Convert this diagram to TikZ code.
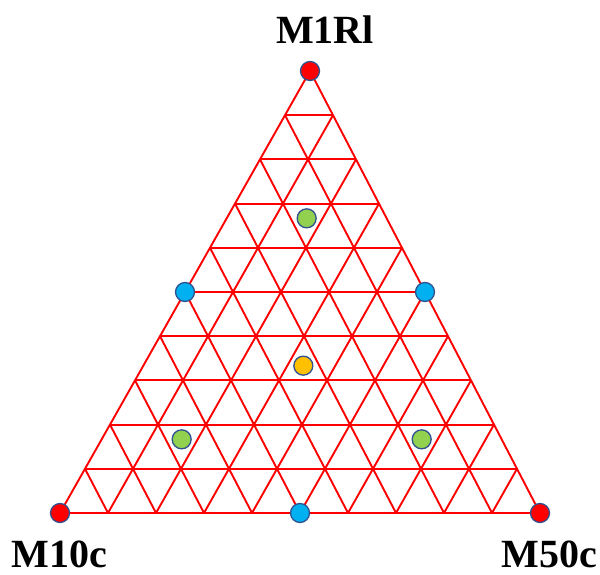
\documentclass[tikz,border=0pt]{standalone}
\usepackage{fontspec}
\setmainfont{Liberation Serif}
\usetikzlibrary{calc}
\definecolor{gridred}{RGB}{255,0,0}
\definecolor{dotedge}{RGB}{47,82,143}
\definecolor{dotred}{RGB}{255,0,0}
\definecolor{dotblue}{RGB}{0,176,240}
\definecolor{dotgreen}{RGB}{146,208,80}
\definecolor{dotorange}{RGB}{255,192,0}
\tikzset{
  gridline/.style={draw=gridred, line width=1.9pt},
  dot/.style={circle, draw=dotedge, line width=1.3pt, minimum size=19pt, inner sep=0pt},
  vlabel/.style={font=\bfseries\fontsize{40}{40}\selectfont, inner sep=0pt, anchor=base}
}
\begin{document}
\begin{tikzpicture}[x=1pt,y=-1pt]
\useasboundingbox (0,0) rectangle (600,575);
\coordinate (A) at (310,71);
\coordinate (L) at (60,513);
\coordinate (R) at (540,513);
% grid
\draw[gridline] (A) -- (L) -- (R) -- cycle;
\foreach \i in {1,...,9} {
  \draw[gridline] ($(A)!\i/10!(L)$) -- ($(A)!\i/10!(R)$);
  \draw[gridline] ($(L)!\i/10!(R)$) -- ($(A)!\i/10!(R)$);
  \draw[gridline] ($(L)!\i/10!(R)$) -- ($(L)!\i/10!(A)$);
}
% dots
\node[dot, fill=dotred] (vA) at (A) {};
\node[dot, fill=dotred] (vL) at (L) {};
\node[dot, fill=dotred] (vR) at (R) {};
\node[dot, fill=dotblue] (mAL) at ($(A)!0.5!(L)$) {};
\node[dot, fill=dotblue] (mAR) at ($(A)!0.5!(R)$) {};
\node[dot, fill=dotblue] (mLR) at ($(L)!0.5!(R)$) {};
\node[dot, fill=dotgreen] (gA) at ($(A)!1/3!($(L)!0.5!(R)$)$) {};
\node[dot, fill=dotgreen] (gL) at ($(L)!1/3!($(A)!0.5!(R)$)$) {};
\node[dot, fill=dotgreen] (gR) at ($(R)!1/3!($(A)!0.5!(L)$)$) {};
\node[dot, fill=dotorange] (cen) at ($(A)!2/3!($(L)!0.5!(R)$)$) {};
% labels
\node[vlabel] (tA) at (325,44) {M1Rl};
\node[vlabel] (tL) at (59,567) {M10c};
\node[vlabel] (tR) at (549,567) {M50c};
\end{tikzpicture}
\end{document}
